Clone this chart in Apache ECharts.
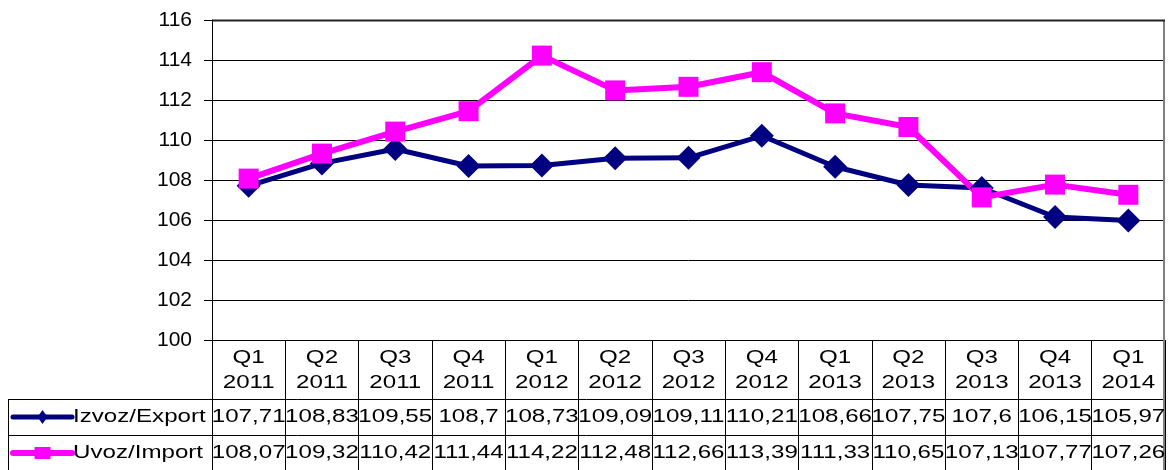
<!DOCTYPE html>
<html><head><meta charset="utf-8">
<script src="https://cdn.jsdelivr.net/npm/echarts@6/dist/echarts.min.js"></script>
<style>html,body{margin:0;padding:0;background:#fff}#c{width:1168px;height:470px}</style>
</head><body><div id="c"></div>
<script>
// ---- data ----
const quarters = ['Q1','Q2','Q3','Q4','Q1','Q2','Q3','Q4','Q1','Q2','Q3','Q4','Q1'];
const years = ['2011','2011','2011','2011','2012','2012','2012','2012','2013','2013','2013','2013','2014'];
const exportName = 'Izvoz/Export';
const importName = 'Uvoz/Import';
const exportValues = [107.71,108.83,109.55,108.7,108.73,109.09,109.11,110.21,108.66,107.75,107.6,106.15,105.97];
const importValues = [108.07,109.32,110.42,111.44,114.22,112.48,112.66,113.39,111.33,110.65,107.13,107.77,107.26];
const yMin = 100, yMax = 116, yStep = 2;

const categories = quarters.map((q, i) => q + ' ' + years[i]);
const EXPORT_COLOR = '#000080';
const IMPORT_COLOR = '#FF00FF';
const FONT_FAMILY = '"Liberation Sans", Arial, sans-serif';
const fmt = v => String(v).replace('.', ',');

const chart = echarts.init(document.getElementById('c'), null, {renderer: 'canvas'});
chart.setOption({
  animation: false,
  backgroundColor: '#fff',
  grid: {left: 212, right: 3, top: 20, bottom: 130, containLabel: false, outerBoundsMode: 'none'},
  xAxis: {
    type: 'category',
    data: categories,
    boundaryGap: true,
    axisLine: {show: true, lineStyle: {color: '#000', width: 1}},
    axisTick: {show: true, inside: false, length: 130, lineStyle: {color: '#000', width: 1}},
    axisLabel: {show: false},
    splitLine: {show: false}
  },
  yAxis: {
    type: 'value',
    min: yMin, max: yMax, interval: yStep,
    axisLine: {show: true, lineStyle: {color: '#000', width: 1}},
    axisTick: {show: true, inside: false, length: 8, lineStyle: {color: '#000'}},
    axisLabel: {color: '#000', fontSize: 21, fontFamily: FONT_FAMILY, margin: 20},
    splitLine: {show: true, lineStyle: {color: '#000', width: 1}}
  },
  series: [
    {
      name: exportName, type: 'line', data: exportValues,
      symbol: 'diamond', symbolSize: [24, 24],
      lineStyle: {color: EXPORT_COLOR, width: 5},
      itemStyle: {color: EXPORT_COLOR}
    },
    {
      name: importName, type: 'line', data: importValues,
      symbol: 'rect', symbolSize: 20,
      lineStyle: {color: IMPORT_COLOR, width: 6},
      itemStyle: {color: IMPORT_COLOR}
    }
  ]
});

// ---- data table under the plot, positioned from the axes ----
const n = categories.length;
const c0 = chart.convertToPixel({xAxisIndex: 0}, 0);
const c1 = chart.convertToPixel({xAxisIndex: 0}, 1);
const cellW = c1 - c0;
const gridLeft = c0 - cellW / 2;
const gridRight = gridLeft + cellW * n;
const gridBottom = chart.convertToPixel({yAxisIndex: 0}, yMin);
const gridTop = chart.convertToPixel({yAxisIndex: 0}, yMax);
const headerH = 59, rowH = 36, tableLeft = 8;
const row1Top = gridBottom + headerH;
const row2Top = row1Top + rowH;
const tableBottom = row2Top + rowH;
const textFont = '19px ' + FONT_FAMILY;
const SX = 1.27;

const g = [];
function txt(text, x, y, align) {
  g.push({type: 'text', x: x, y: y, scaleX: SX, z: 10,
    style: {text: text, font: textFont, fill: '#000', align: align || 'center', verticalAlign: 'middle'}});
}
function line(x1, y1, x2, y2, color, w) {
  g.push({type: 'line', z: 9, shape: {x1, y1, x2, y2}, style: {stroke: color, lineWidth: w}});
}
// table grid lines
line(tableLeft, row1Top + 0.5, gridRight, row1Top + 0.5, '#000', 1);
line(tableLeft, row2Top + 0.5, gridRight, row2Top + 0.5, '#000', 1);
line(tableLeft + 0.5, row1Top, tableLeft + 0.5, tableBottom, '#000', 1);
line(gridLeft + 0.5, gridBottom, gridLeft + 0.5, tableBottom, '#000', 1);
// right border
line(gridRight - 1, gridTop, gridRight - 1, tableBottom, '#808080', 2);
// top border emphasis
line(gridLeft, gridTop + 0.5, gridRight, gridTop + 0.5, '#222', 2);

for (let i = 0; i < n; i++) {
  const cx = chart.convertToPixel({xAxisIndex: 0}, i);
  txt(quarters[i], cx, gridBottom + 18);
  txt(years[i], cx, gridBottom + 43);
  txt(fmt(exportValues[i]), cx, row1Top + rowH / 2);
  txt(fmt(importValues[i]), cx, row2Top + rowH / 2);
}
// legend keys
const keyX1 = tableLeft + 5, keyX2 = tableLeft + 64, keyMid = (keyX1 + keyX2) / 2;
const r1y = row1Top + rowH / 2, r2y = row2Top + rowH / 2;
g.push({type: 'line', z: 10, shape: {x1: keyX1, y1: r1y, x2: keyX2, y2: r1y}, style: {stroke: EXPORT_COLOR, lineWidth: 5, lineCap: 'round'}});
g.push({type: 'polygon', z: 11, shape: {points: [[keyMid, r1y - 7], [keyMid + 5, r1y], [keyMid, r1y + 7], [keyMid - 5, r1y]]}, style: {fill: EXPORT_COLOR}});
g.push({type: 'line', z: 10, shape: {x1: keyX1, y1: r2y, x2: keyX2, y2: r2y}, style: {stroke: IMPORT_COLOR, lineWidth: 6, lineCap: 'round'}});
g.push({type: 'rect', z: 11, shape: {x: keyMid - 8, y: r2y - 6, width: 16, height: 12}, style: {fill: IMPORT_COLOR}});
txt(exportName, keyX2 + 1, r1y, 'left');
txt(importName, keyX2 + 1, r2y, 'left');

chart.setOption({graphic: {elements: g}});
</script>
</body></html>
